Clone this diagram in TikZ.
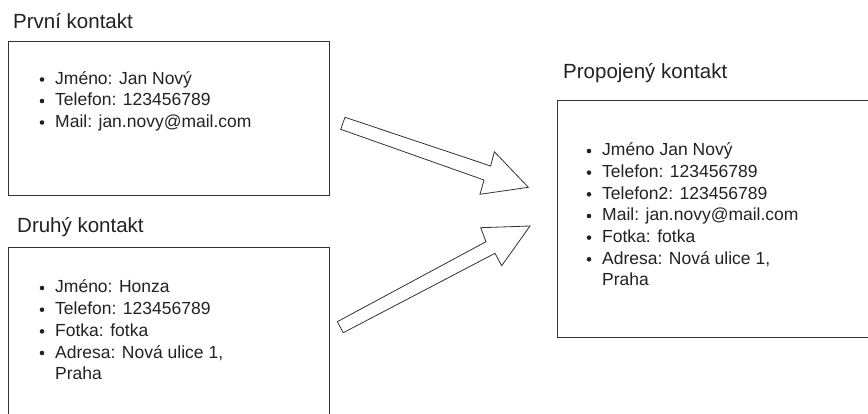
\documentclass[tikz,border=0pt]{standalone}
\usepackage{fontspec}
\setmainfont{Liberation Sans}
\definecolor{txt}{HTML}{222222}
\definecolor{boxline}{HTML}{333333}
\tikzset{
  box/.style={draw=boxline, line width=1pt, anchor=north west, inner sep=0pt},
  ttl/.style={anchor=base west, inner sep=0pt, font=\fontsize{20.5}{24}\selectfont, text=txt},
  item/.style={anchor=base west, inner sep=0pt, font=\fontsize{17.5}{21}\selectfont, text=txt},
  bul/.style={circle, fill=txt, inner sep=0pt, minimum size=4.6pt},
  blockarrow/.style={draw=boxline, line width=0.8pt, fill=white, line join=miter}
}
\begin{document}
\begin{tikzpicture}[x=1pt,y=-1pt]
\useasboundingbox (0,0) rectangle (868,414);
\clip (0,0) rectangle (868,414);
\fill[white] (0,0) rectangle (868,414);

% boxes
\node[box, minimum width=321pt, minimum height=154pt] (b1) at (8,41) {};
\node[box, minimum width=321pt, minimum height=185pt] (b2) at (8,247) {};
\node[box, minimum width=330pt, minimum height=237pt] (b3) at (557,100) {};

% titles
\node[ttl] (t1) at (13,28.3) {První kontakt};
\node[ttl] (t2) at (17,233) {Druhý kontakt};
\node[ttl] (t3) at (563,78.3) {Propojený kontakt};

% first contact
\node[item] (a1) at (55,84.5) {Jméno: Jan Nový};
\node[item] (a2) at (55,106) {Telefon: 123456789};
\node[item] (a3) at (55,127.5) {Mail: jan.novy@mail.com};

% second contact
\node[item] (c1) at (55,293) {Jméno: Honza};
\node[item] (c2) at (55,314.7) {Telefon: 123456789};
\node[item] (c3) at (55,336.4) {Fotka: fotka};
\node[item] (c4) at (55,358) {Adresa: Nová ulice 1,};
\node[item] (c5) at (55,379.7) {Praha};

% merged contact
\node[item] (m1) at (602,156) {Jméno Jan Nový};
\node[item] (m2) at (602,177.6) {Telefon: 123456789};
\node[item] (m3) at (602,199.3) {Telefon2: 123456789};
\node[item] (m4) at (602,221) {Mail: jan.novy@mail.com};
\node[item] (m5) at (602,242.6) {Fotka: fotka};
\node[item] (m6) at (602,264.3) {Adresa: Nová ulice 1,};
\node[item] (m7) at (602,286) {Praha};

% bullets
\foreach \n in {a1,a2,a3,c1,c2,c3,c4,m1,m2,m3,m4,m5,m6}
  \node[bul] at ([shift={(-13,-5)}]\n.base west) {};

% block arrows
\draw[blockarrow] (345,117.3) -- (490.7,166) -- (494.3,151.7) -- (528.3,187.3)
  -- (480,194.3) -- (484,180) -- (340.7,129.3) -- cycle;
\draw[blockarrow] (337.3,321.7) -- (486,241.7) -- (480.7,227.7) -- (530,226)
  -- (501.7,265.7) -- (495,253.3) -- (343.3,332.7) -- cycle;
\end{tikzpicture}
\end{document}
